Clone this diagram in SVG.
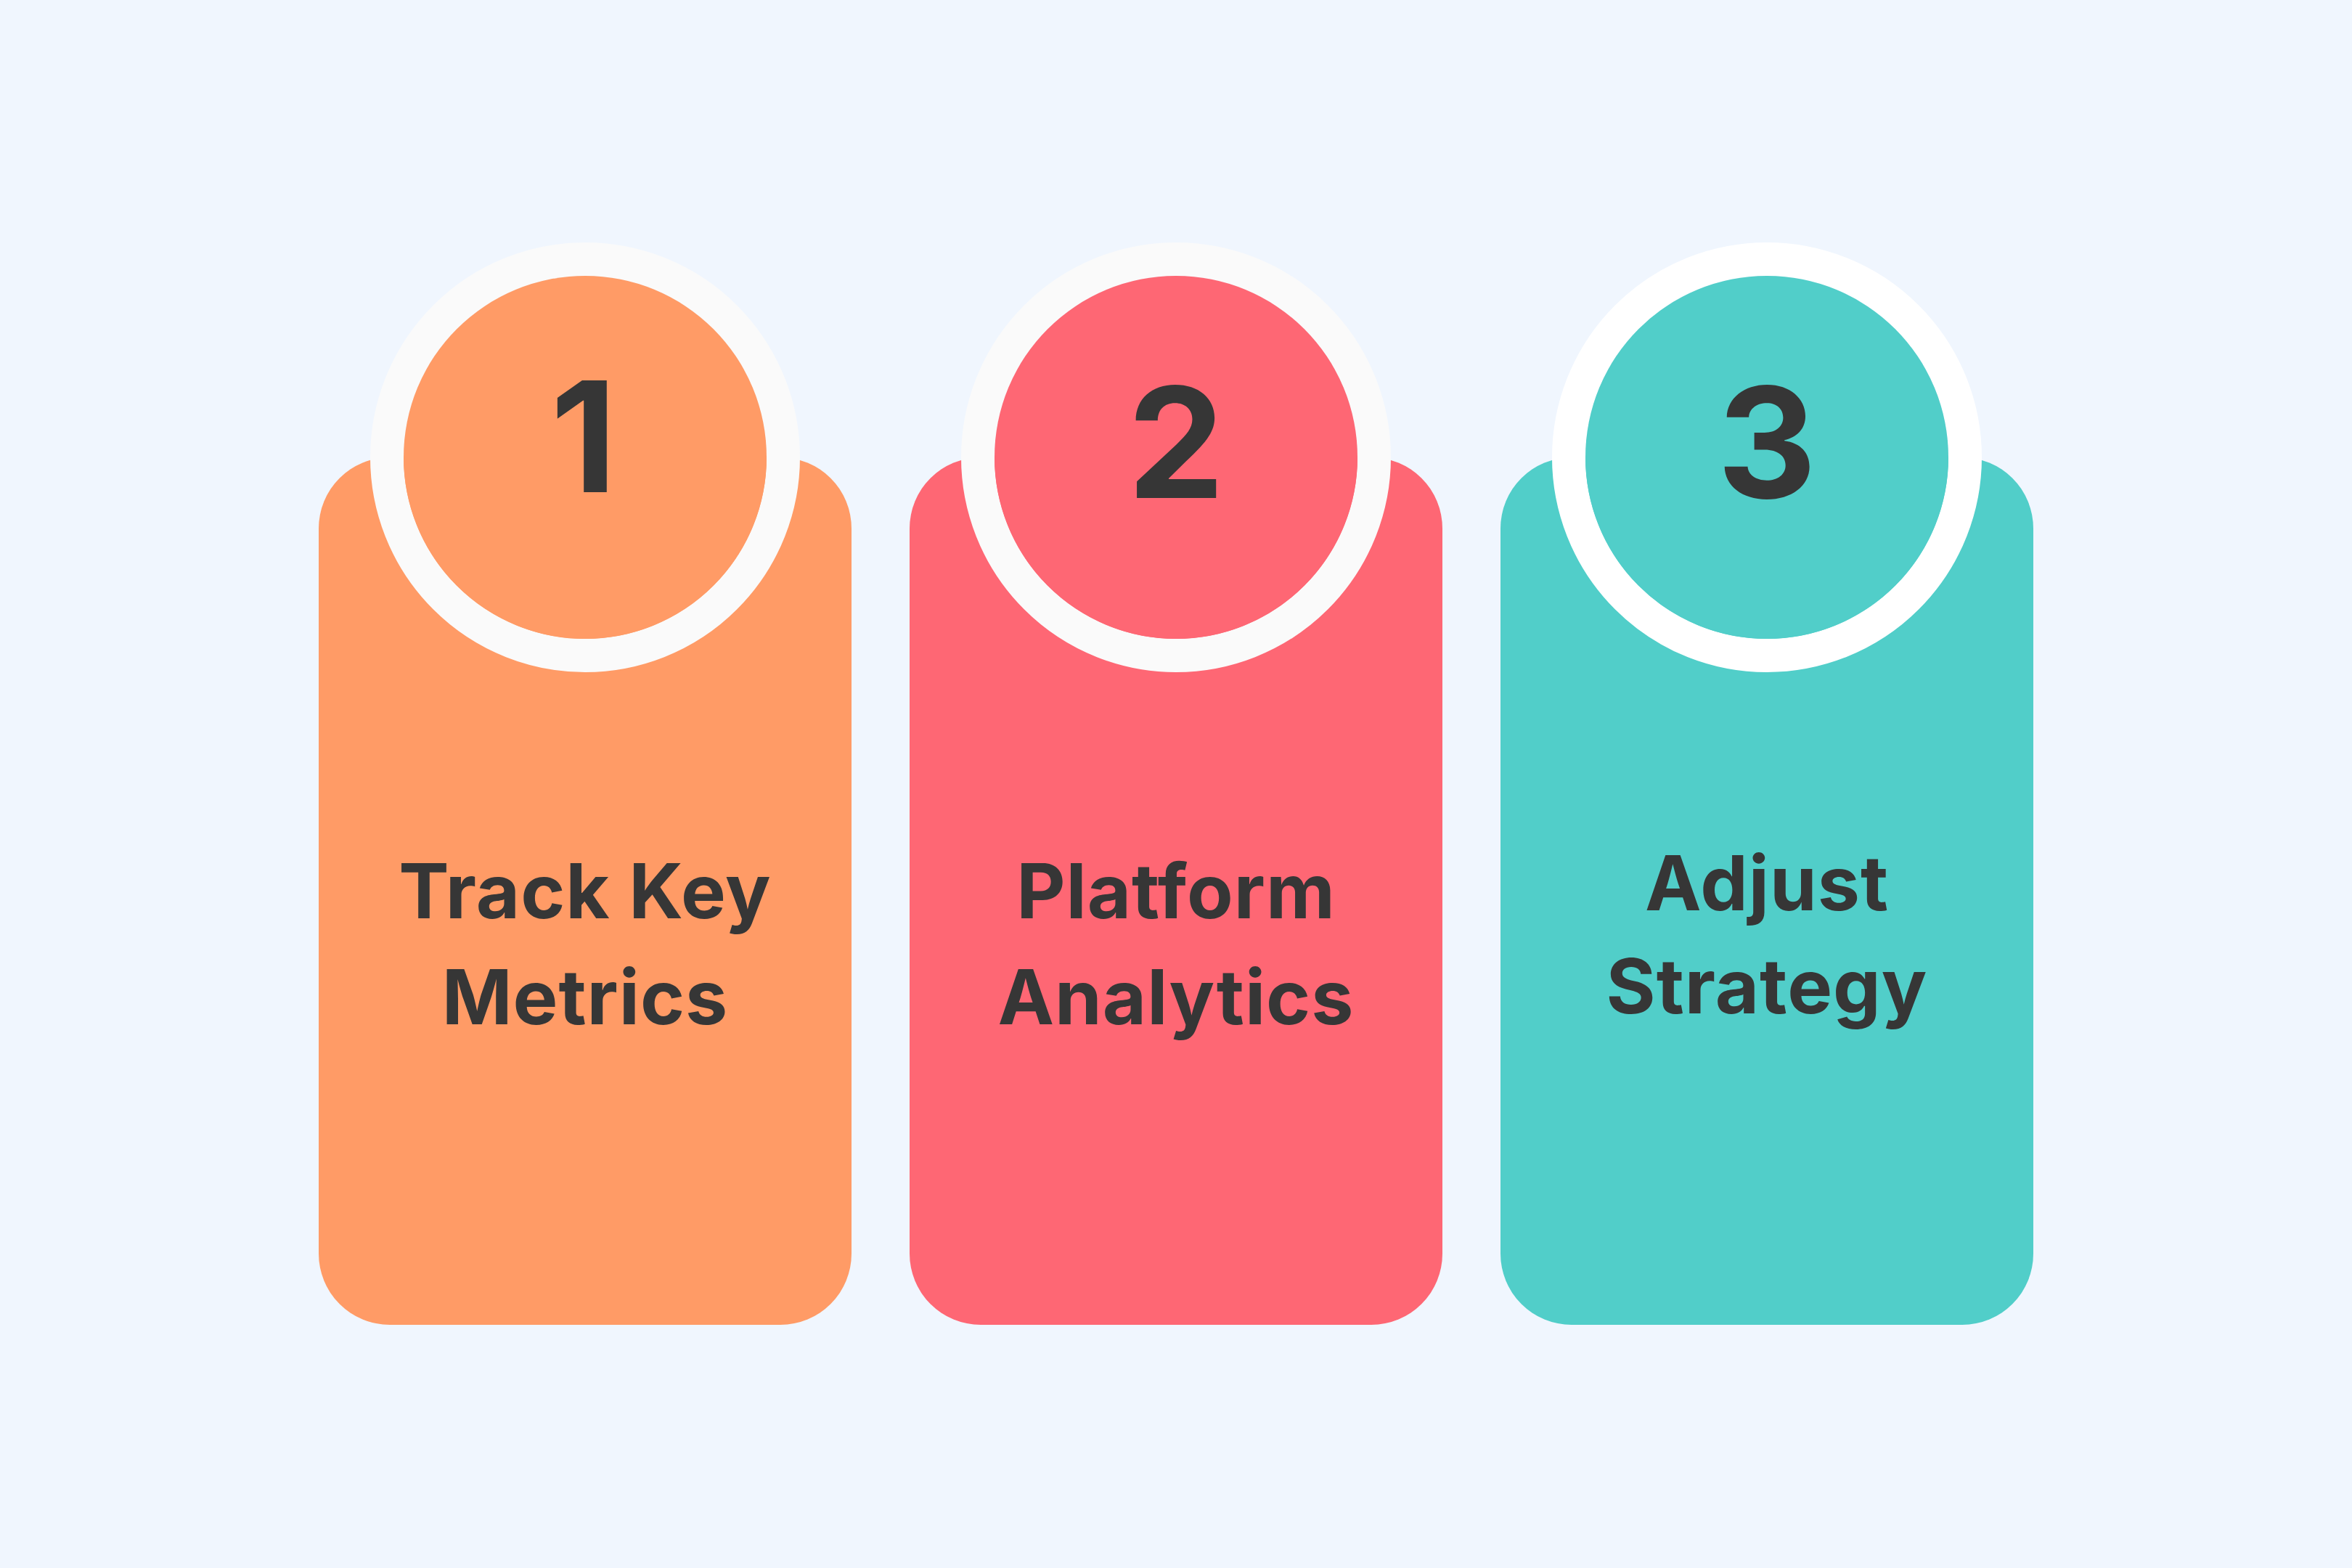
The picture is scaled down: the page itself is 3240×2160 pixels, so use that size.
<svg xmlns="http://www.w3.org/2000/svg" width="3240" height="2160" viewBox="0 0 3240 2160">
<style>
.card{stroke:none}
.ring{fill:none;stroke:#FAFAFA;stroke-width:46}
.num{font-family:Inter,"Liberation Sans",sans-serif;font-weight:700;font-size:212px;fill:#363636;text-anchor:middle}
.lbl{font-family:Inter,"Liberation Sans",sans-serif;font-weight:700;font-size:104px;fill:#363636;text-anchor:middle;letter-spacing:1px}
</style>
<rect width="3240" height="2160" fill="#F0F6FE"/>
<g id="connectors"></g>
<g id="step1">
<rect class="card" x="439" y="630" width="734" height="1195" rx="98" fill="#FF9B66"/>
<circle cx="806" cy="630" r="273" class="ring"/>
<circle cx="806" cy="630" r="250" fill="#FF9B66"/>
<text class="num" x="804" y="678">1</text>
<text class="lbl" x="806" y="1265">Track Key</text>
<text class="lbl" x="806" y="1411">Metrics</text>
</g>
<g id="step2">
<rect class="card" x="1253" y="630" width="734" height="1195" rx="98" fill="#FE6774"/>
<circle cx="1620" cy="630" r="273" class="ring"/>
<circle cx="1620" cy="630" r="250" fill="#FE6774"/>
<text class="num" x="1620" y="686">2</text>
<text class="lbl" x="1620" y="1265">Platform</text>
<text class="lbl" x="1620" y="1411">Analytics</text>
</g>
<g id="step3">
<rect class="card" x="2067" y="630" width="734" height="1195" rx="98" fill="#51CEC9"/>
<circle cx="2434" cy="630" r="273" class="ring" style="stroke:#FFFFFF"/>
<circle cx="2434" cy="630" r="250" fill="#51CEC9"/>
<text class="num" x="2434" y="686">3</text>
<text class="lbl" x="2434" y="1254">Adjust</text>
<text class="lbl" x="2434" y="1396">Strategy</text>
</g>
</svg>
